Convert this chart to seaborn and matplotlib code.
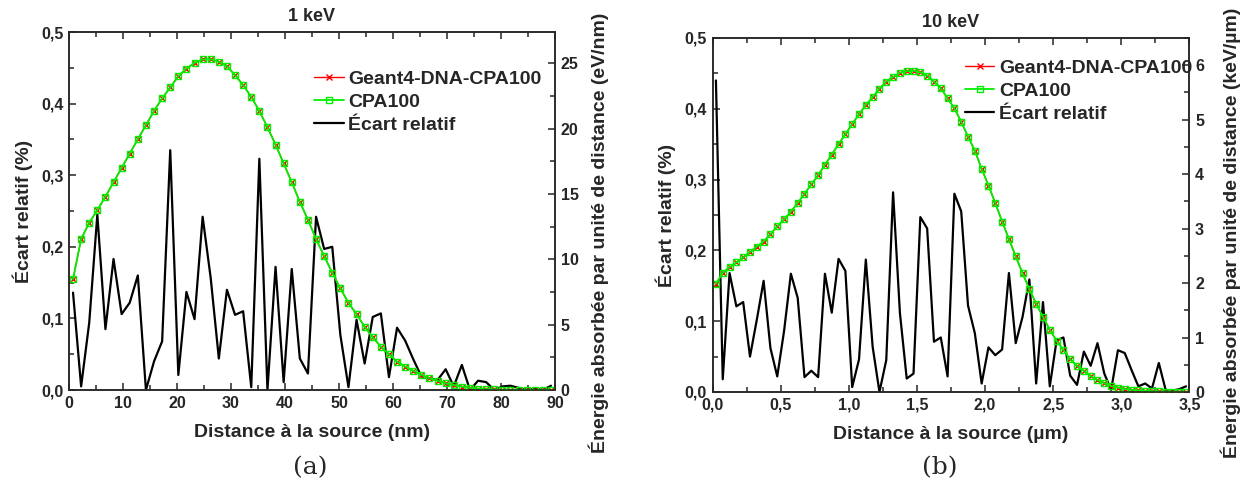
import numpy as np
import matplotlib
matplotlib.use("Agg")
import matplotlib.pyplot as plt
import seaborn as sns
from matplotlib.ticker import MultipleLocator, FuncFormatter

# --- données ---
# (a) 1 keV : centres des classes de 1,5 nm
dist_a = np.arange(0.75, 90, 1.5)
geant4_a = [8.5, 11.55, 12.8, 13.77, 14.8, 15.9, 17.0, 18.1, 19.2, 20.27,
            21.37, 22.32, 23.16, 24.02, 24.6, 25.04, 25.3, 25.32, 25.12, 24.79,
            24.1, 23.34, 22.44, 21.35, 20.12, 18.78, 17.35, 15.9, 14.4, 13.03,
            11.55, 10.25, 8.98, 7.78, 6.68, 5.79, 4.85, 4.03, 3.32, 2.73,
            2.17, 1.79, 1.48, 1.15, 0.89, 0.71, 0.51, 0.38, 0.26, 0.18,
            0.10, 0.07, 0.05, 0.03, 0.02, 0.015, 0.01, 0.008, 0.005, 0.003]
cpa100_a = [8.5, 11.55, 12.8, 13.77, 14.8, 15.9, 17.0, 18.1, 19.2, 20.27,
            21.37, 22.32, 23.16, 24.02, 24.6, 25.04, 25.3, 25.32, 25.12, 24.79,
            24.1, 23.34, 22.44, 21.35, 20.12, 18.78, 17.35, 15.9, 14.4, 13.03,
            11.55, 10.25, 8.98, 7.78, 6.68, 5.79, 4.85, 4.03, 3.32, 2.73,
            2.17, 1.79, 1.48, 1.15, 0.89, 0.71, 0.51, 0.38, 0.26, 0.18,
            0.10, 0.07, 0.05, 0.03, 0.02, 0.015, 0.01, 0.008, 0.005, 0.003]
ecart_a = [0.136, 0.005, 0.094, 0.245, 0.085, 0.183, 0.106, 0.122, 0.160, 0.000,
           0.040, 0.068, 0.335, 0.021, 0.137, 0.099, 0.242, 0.156, 0.044, 0.140,
           0.105, 0.110, 0.004, 0.323, 0.000, 0.172, 0.011, 0.169, 0.044, 0.023,
           0.242, 0.197, 0.200, 0.077, 0.004, 0.098, 0.037, 0.102, 0.107, 0.018,
           0.087, 0.069, 0.043, 0.019, 0.016, 0.014, 0.029, 0.005, 0.035, 0.000,
           0.013, 0.011, 0.000, 0.005, 0.006, 0.003, 0.000, 0.002, 0.000, 0.006]

# (b) 10 keV : centres des classes de 0,05 µm
dist_b = np.arange(0.025, 3.5, 0.05)
geant4_b = [1.985, 2.19, 2.29, 2.38, 2.47, 2.57, 2.67, 2.76, 2.90, 3.04,
            3.17, 3.31, 3.47, 3.64, 3.81, 3.98, 4.17, 4.36, 4.55, 4.73,
            4.92, 5.10, 5.27, 5.41, 5.57, 5.70, 5.78, 5.86, 5.89, 5.90,
            5.87, 5.81, 5.70, 5.58, 5.39, 5.21, 4.96, 4.69, 4.43, 4.10,
            3.79, 3.47, 3.13, 2.81, 2.49, 2.18, 1.89, 1.62, 1.38, 1.14,
            0.94, 0.77, 0.60, 0.48, 0.39, 0.29, 0.22, 0.16, 0.11, 0.08,
            0.055, 0.04, 0.03, 0.02, 0.015, 0.01, 0.008, 0.006, 0.004, 0.003]
cpa100_b = [1.985, 2.19, 2.29, 2.38, 2.47, 2.57, 2.67, 2.76, 2.90, 3.04,
            3.17, 3.31, 3.47, 3.64, 3.81, 3.98, 4.17, 4.36, 4.55, 4.73,
            4.92, 5.10, 5.27, 5.41, 5.57, 5.70, 5.78, 5.86, 5.89, 5.90,
            5.87, 5.81, 5.70, 5.58, 5.39, 5.21, 4.96, 4.69, 4.43, 4.10,
            3.79, 3.47, 3.13, 2.81, 2.49, 2.18, 1.89, 1.62, 1.38, 1.14,
            0.94, 0.77, 0.60, 0.48, 0.39, 0.29, 0.22, 0.16, 0.11, 0.08,
            0.055, 0.04, 0.03, 0.02, 0.015, 0.01, 0.008, 0.006, 0.004, 0.003]
ecart_b = [0.440, 0.018, 0.168, 0.121, 0.127, 0.050, 0.102, 0.157, 0.062, 0.022,
           0.086, 0.167, 0.133, 0.021, 0.030, 0.021, 0.167, 0.112, 0.188, 0.171,
           0.007, 0.046, 0.187, 0.064, 0.000, 0.045, 0.282, 0.112, 0.019, 0.026,
           0.247, 0.231, 0.071, 0.077, 0.022, 0.280, 0.255, 0.122, 0.083, 0.012,
           0.063, 0.052, 0.060, 0.168, 0.069, 0.106, 0.159, 0.012, 0.127, 0.008,
           0.073, 0.077, 0.023, 0.010, 0.057, 0.037, 0.069, 0.026, 0.003, 0.059,
           0.055, 0.031, 0.008, 0.012, 0.005, 0.041, 0.003, 0.002, 0.004, 0.008]

titles = ["1 keV", "10 keV"]
xlabels = ["Distance à la source (nm)", "Distance à la source (µm)"]
ylabel_left = "Écart relatif (%)"
ylabels_right = ["Énergie absorbée par unité de distance (eV/nm)",
                 "Énergie absorbée par unité de distance (keV/µm)"]
captions = ["(a)", "(b)"]
noms = ["Geant4-DNA-CPA100", "CPA100", "Écart relatif"]

sns.set_style("ticks")
plt.rcParams['font.family'] = ['Liberation Sans', 'DejaVu Sans']
plt.rcParams['font.weight'] = 'bold'
plt.rcParams['axes.labelweight'] = 'bold'
plt.rcParams['axes.titleweight'] = 'bold'
plt.rcParams['axes.linewidth'] = 1.1

virgule = FuncFormatter(lambda v, p: f"{v:.1f}".replace(".", ","))
entier = FuncFormatter(lambda v, p: f"{v:.0f}")

fig = plt.figure(figsize=(12.45, 4.95), dpi=100)
ax_a = fig.add_axes([0.0554, 0.2121, 0.3904, 0.7232])
ax_b = fig.add_axes([0.5723, 0.2081, 0.3831, 0.7152])

# axe, distances, séries, xmax, pas x, ymax droit, pas droit, format x,
# position de la légende, position du titre droit
panneaux = [
    (ax_a, dist_a, geant4_a, cpa100_a, ecart_a, 90, 10, 27.4, 5, entier,
     (0.505, 0.893), (1.068, 0.44)),
    (ax_b, dist_b, geant4_b, cpa100_b, ecart_b, 3.5, 0.5, 6.5, 1, virgule,
     (0.53, 0.94), (1.066, 0.45)),
]

for i, (ax, dist, g4, cpa, ecart, xmax, xstep, ymax2, ystep2, xfmt,
        leg_pos, ylab_pos) in enumerate(panneaux):
    ax2 = ax.twinx()

    sns.lineplot(x=dist, y=ecart, ax=ax, color="black", linewidth=1.6,
                 label=noms[2], legend=False)
    sns.lineplot(x=dist, y=g4, ax=ax2, color="red", linewidth=1.0,
                 marker="x", markersize=4, markeredgecolor="red",
                 markeredgewidth=1.0, label=noms[0], legend=False)
    sns.lineplot(x=dist, y=cpa, ax=ax2, color="#00f000", linewidth=1.3,
                 marker="s", markersize=4.8, markerfacecolor="none",
                 markeredgecolor="#00f000", markeredgewidth=1.0,
                 label=noms[1], legend=False)

    ax.set_xlim(0, xmax)
    ax.set_ylim(0, 0.5)
    ax2.set_ylim(0, ymax2)
    ax.xaxis.set_major_locator(MultipleLocator(xstep))
    ax.xaxis.set_minor_locator(MultipleLocator(xstep / 2))
    ax.yaxis.set_major_locator(MultipleLocator(0.1))
    ax.yaxis.set_minor_locator(MultipleLocator(0.05))
    ax2.yaxis.set_major_locator(MultipleLocator(ystep2))
    ax2.yaxis.set_minor_locator(MultipleLocator(ystep2 / 2))
    ax.xaxis.set_major_formatter(xfmt)
    ax.yaxis.set_major_formatter(virgule)
    ax2.yaxis.set_major_formatter(entier)

    ax.tick_params(which="both", direction="in", top=True, right=False,
                   labelsize=11.5, width=1.1, pad=4)
    ax.tick_params(which="major", length=5)
    ax.tick_params(which="minor", length=3.5)
    ax2.tick_params(which="both", direction="in", labelsize=11.5, width=1.1, pad=4)
    ax2.tick_params(which="major", length=5)
    ax2.tick_params(which="minor", length=3.5)

    ax.set_title(titles[i], fontsize=13, pad=8)
    ax.set_xlabel(xlabels[i], fontsize=14, labelpad=10)
    ax.set_ylabel(ylabel_left, fontsize=14, labelpad=6)
    ax2.set_ylabel(ylabels_right[i], fontsize=14)
    ax2.yaxis.set_label_coords(*ylab_pos)

    h2, l2 = ax2.get_legend_handles_labels()
    h1, l1 = ax.get_legend_handles_labels()
    ax2.legend(h2 + h1, l2 + l1, loc="upper left", frameon=False,
               fontsize=14, handlelength=1.5, handletextpad=0.25,
               labelspacing=0.28, borderaxespad=0, borderpad=0,
               bbox_to_anchor=leg_pos)

fig.text(0.249, 0.055, captions[0], ha="center", va="center",
         fontsize=18, fontweight="normal", family="DejaVu Serif")
fig.text(0.755, 0.055, captions[1], ha="center", va="center",
         fontsize=18, fontweight="normal", family="DejaVu Serif")

fig.savefig("out.png", dpi=100)
